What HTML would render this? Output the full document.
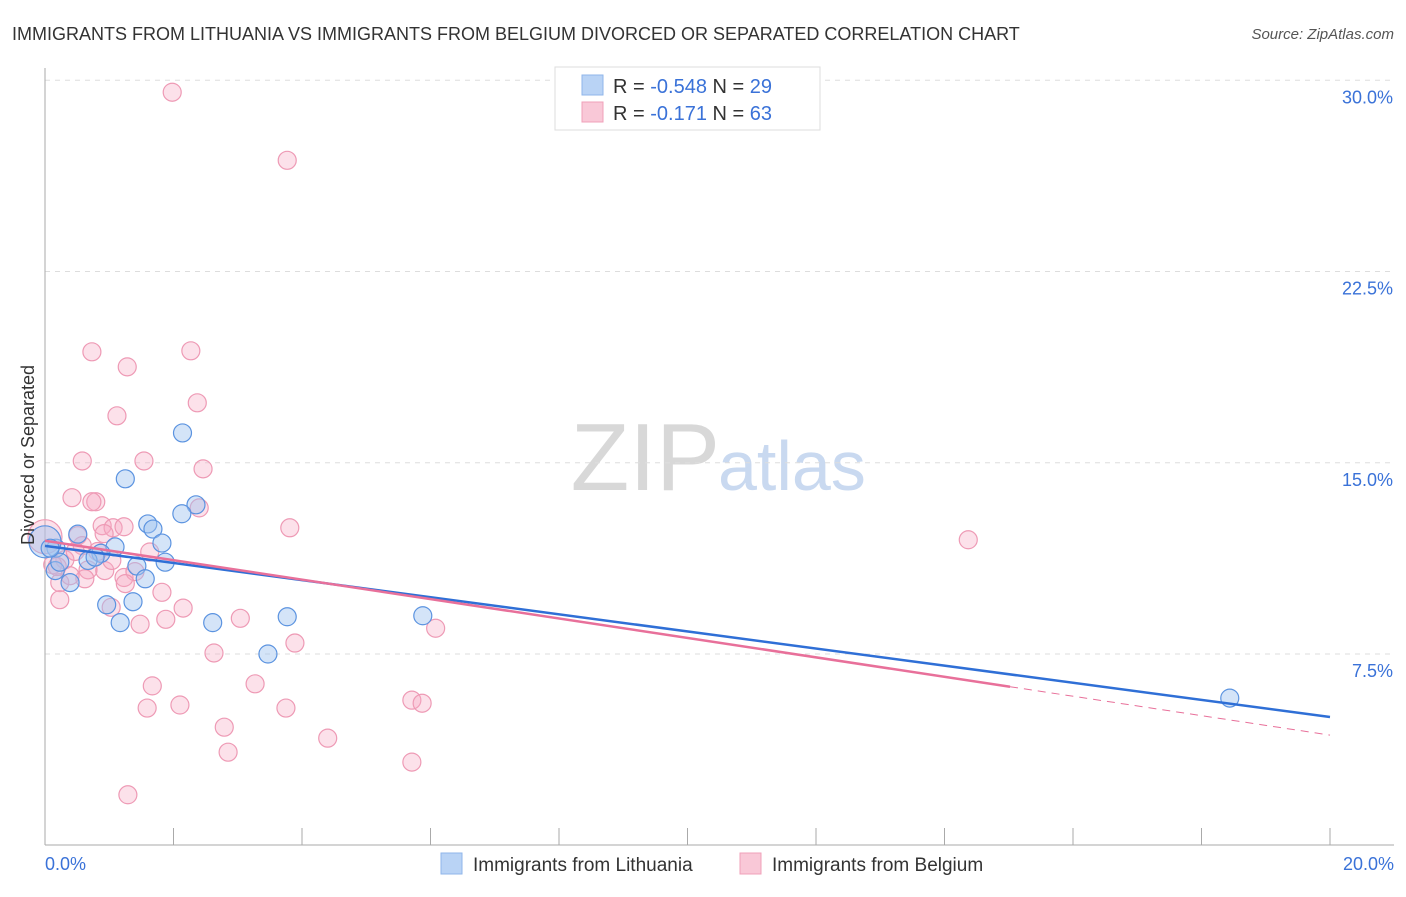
<!DOCTYPE html>
<html><head><meta charset="utf-8"><style>
body{margin:0;background:#fff;font-family:"Liberation Sans",sans-serif;}
svg text{font-family:"Liberation Sans",sans-serif;}
</style></head><body>
<svg id="chart" width="1406" height="892" xmlns="http://www.w3.org/2000/svg">
<text x="12" y="40" font-size="18" fill="#333">IMMIGRANTS FROM LITHUANIA VS IMMIGRANTS FROM BELGIUM DIVORCED OR SEPARATED CORRELATION CHART</text>
<text x="1394" y="39" font-size="15" fill="#555" text-anchor="end" font-style="italic">Source: ZipAtlas.com</text>
<text x="720" y="490" font-size="96" fill="#d8d8d8" text-anchor="end" font-family="Liberation Serif">ZIP</text>
<text x="718" y="490" font-size="70" fill="#c9d9f0">atlas</text>
<g id="grid"></g>
<g id="axes"></g>
<g id="points"></g>
<g id="trends"></g>
<text transform="translate(34,455) rotate(-90)" font-size="18" fill="#333" text-anchor="middle">Divorced or Separated</text>
<g>
<rect x="555" y="67" width="265" height="63" fill="#fff" stroke="#ddd"/>
<rect x="582" y="75" width="21" height="20" fill="#b9d3f5" stroke="#8fb6ea"/>
<rect x="582" y="102" width="21" height="20" fill="#f9c8d7" stroke="#f0a0ba"/>
<text x="613" y="93" font-size="20" fill="#333">R = <tspan fill="#3a72d8">-0.548</tspan>   N = <tspan fill="#3a72d8">29</tspan></text>
<text x="613" y="120" font-size="20" fill="#333">R =   <tspan fill="#3a72d8">-0.171</tspan>   N = <tspan fill="#3a72d8">63</tspan></text>
</g>
<g>
<rect x="441" y="853" width="21" height="21" fill="#b9d3f5" stroke="#8fb6ea"/>
<text x="473" y="871" font-size="19" fill="#333">Immigrants from Lithuania</text>
<rect x="740" y="853" width="21" height="21" fill="#f9c8d7" stroke="#f0a0ba"/>
<text x="772" y="871" font-size="19" fill="#333">Immigrants from Belgium</text>
</g>
</svg>
<script>
const yTicks=[7.5,15,22.5,30];
const yTickLabels=["7.5%","15.0%","22.5%","30.0%"];
const xTickLabels=["0.0%","20.0%"];
const lithX=[2.14,1.25,2.35,2.13,1.6,1.68,0.51,1.82,0.17,1.09,0.87,0.67,1.87,1.43,0.16,0.39,1.56,0.96,1.37,1.17,2.61,3.77,5.88,3.47,18.44,0.0,0.23,0.78,0.08];
const lithY=[16.17,14.37,13.35,13.0,12.6,12.4,12.2,11.85,11.65,11.7,11.45,11.17,11.1,10.95,10.77,10.3,10.45,9.43,9.55,8.73,8.73,8.96,9.0,7.5,5.77,11.9,11.1,11.3,11.65];
const belX=[1.98,3.77,0.73,2.27,1.28,2.37,1.12,0.58,1.54,2.46,0.42,0.79,0.73,2.4,3.81,0.89,1.06,1.23,0.51,0.92,0.58,1.63,0.0,14.37,0.31,0.12,0.67,0.93,1.23,1.4,0.23,0.62,0.23,1.25,1.82,1.03,2.15,1.48,1.88,3.04,6.08,3.89,2.63,1.67,3.27,2.1,1.59,3.75,5.71,5.87,2.79,4.4,2.85,5.71,1.29,0.19,0.39,0.47,0.82,1.04];
const belY=[29.53,26.86,19.35,19.39,18.76,17.35,16.84,15.07,15.07,14.76,13.63,13.47,13.47,13.23,12.45,12.53,12.45,12.49,12.14,12.22,11.75,11.5,12.1,11.98,11.2,11.0,10.8,10.77,10.5,10.73,10.3,10.45,9.63,10.26,9.92,9.33,9.3,8.67,8.86,8.9,8.51,7.93,7.54,6.25,6.33,5.5,5.38,5.38,5.69,5.57,4.63,4.2,3.65,3.26,1.98,10.93,10.57,11.52,11.52,11.17];
const lithTrend=[11.74,5.03];
const belTrend=[11.94,4.32];
const belSolidEnd=15.02;
const NS="http://www.w3.org/2000/svg";
const X=v=>45+v/20*1285, Y=v=>654-(v-7.5)*25.5;
function mk(t,a,p){const e=document.createElementNS(NS,t);for(const k in a)e.setAttribute(k,a[k]);p.appendChild(e);return e;}
const grid=document.getElementById('grid'),axes=document.getElementById('axes');
yTicks.forEach((t,i)=>{
 const l=mk('line',{x1:45,x2:1394,y1:Y(t),y2:Y(t),stroke:'#ddd','stroke-dasharray':'5,5'},grid);
 
 
 const tx=mk('text',{x:1393,y:Y(t)+23,'text-anchor':'end','font-size':18,fill:'#3a72d8'},axes);
 tx.textContent=yTickLabels[i];
 
 
});
mk('line',{x1:45,x2:45,y1:68,y2:845,stroke:'#aaa'},axes);
mk('line',{x1:45,x2:1394,y1:845,y2:845,stroke:'#aaa'},axes);
for(let i=0;i<=10;i++){mk('line',{x1:X(i*2),x2:X(i*2),y1:828,y2:845,stroke:'#aaa'},axes);}
[[0,'start',45],[1,'end',1394]].forEach(([i,a,x])=>{
 const tx=mk('text',{x:x,y:870,'text-anchor':a,'font-size':18,fill:'#3a72d8'},axes);
 tx.textContent=xTickLabels[i];
 
 
});
const pts=document.getElementById('points');
belX.forEach((x,i)=>{
 const c=mk('circle',{cx:X(x),cy:Y(belY[i]),r:x===0?17:9,fill:'rgba(247,170,195,0.35)',stroke:'#ee9ab5','stroke-width':1.2},pts);
 
 
});
lithX.forEach((x,i)=>{
 const c=mk('circle',{cx:X(x),cy:Y(lithY[i]),r:x===0?16:9,fill:'rgba(160,195,240,0.45)',stroke:'#5b93e0','stroke-width':1.2},pts);
 
 
});
const tr=document.getElementById('trends');
const lb=mk('line',{x1:X(0),y1:Y(lithTrend[0]),x2:X(20),y2:Y(lithTrend[1]),stroke:'#2f6fd6','stroke-width':2.5},tr);


const bm=v=>belTrend[0]+(belTrend[1]-belTrend[0])*v/20;
const lp=mk('line',{x1:X(0),y1:Y(bm(0)),x2:X(belSolidEnd),y2:Y(bm(belSolidEnd)),stroke:'#e8709a','stroke-width':2.5},tr);


const ld=mk('line',{x1:X(belSolidEnd),y1:Y(bm(belSolidEnd)),x2:X(20),y2:Y(bm(20)),stroke:'#e8709a','stroke-width':1,'stroke-dasharray':'8,6'},tr);


</script>
</body></html>
